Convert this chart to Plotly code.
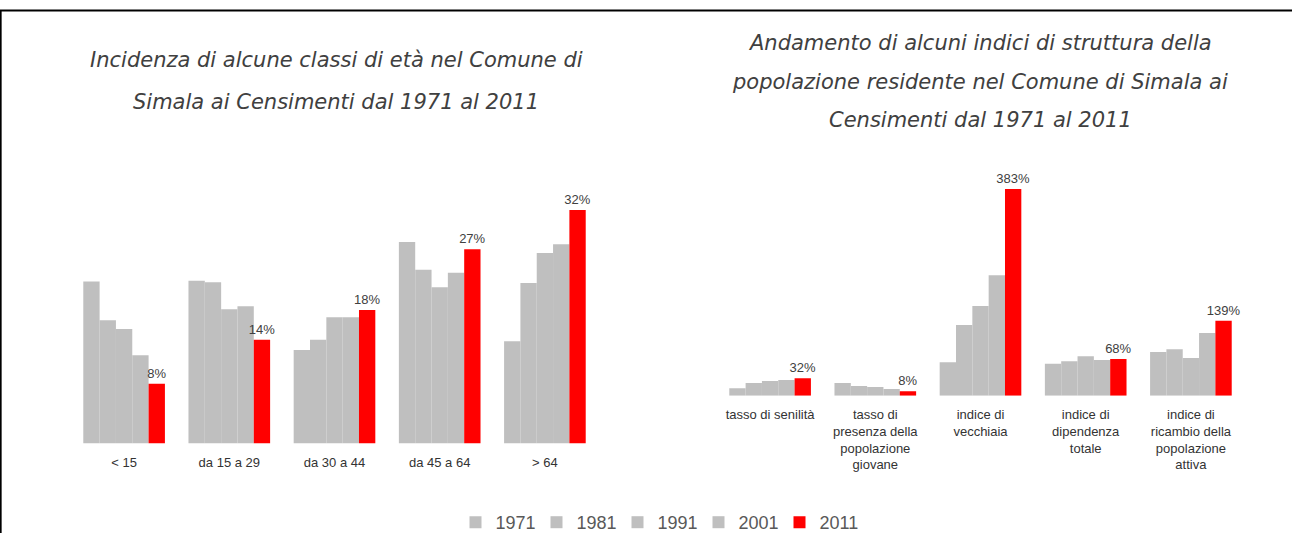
import plotly.graph_objects as go

## dati
anni = ["1971", "1981", "1991", "2001", "2011"]
colori = ["#BFBFBF", "#BFBFBF", "#BFBFBF", "#BFBFBF", "#FF0000"]

classi_eta = ["< 15", "da 15 a 29", "da 30 a 44", "da 45 a 64", "> 64"]
eta_1971 = [22.2, 22.3, 12.8, 27.6, 14.0]
eta_1981 = [16.9, 22.1, 14.2, 23.8, 22.0]
eta_1991 = [15.7, 18.4, 17.3, 21.4, 26.1]
eta_2001 = [12.1, 18.8, 17.3, 23.4, 27.3]
eta_2011 = [8.2, 14.2, 18.3, 26.6, 32.0]

indici = ["tasso di senilità", "tasso di<br>presenza della<br>popolazione<br>giovane",
          "indice di<br>vecchiaia", "indice di<br>dipendenza<br>totale",
          "indice di<br>ricambio della<br>popolazione<br>attiva"]
ind_1971 = [14, 23.5, 62, 59, 81]
ind_1981 = [23.5, 18, 131, 64, 86]
ind_1991 = [27, 16, 166, 73, 70]
ind_2001 = [29, 12.4, 223, 66, 116]
ind_2011 = [32.4, 8.4, 383, 68, 139]

serie_eta = [eta_1971, eta_1981, eta_1991, eta_2001, eta_2011]
serie_ind = [ind_1971, ind_1981, ind_1991, ind_2001, ind_2011]

H = 533
def py(pix):
    return (H - pix) / H

fig = go.Figure()
for i, anno in enumerate(anni):
    ultimo = i == len(anni) - 1
    fig.add_trace(go.Bar(x=classi_eta, y=serie_eta[i], name=anno, legendgroup=anno,
                         marker=dict(color=colori[i], line=dict(width=0)),
                         texttemplate="%{y:.0f}%" if ultimo else None,
                         textposition="outside" if ultimo else "none",
                         textfont=dict(family="Liberation Sans, Arial", size=13, color="#404040"),
                         cliponaxis=False, xaxis="x", yaxis="y"))
for i, anno in enumerate(anni):
    ultimo = i == len(anni) - 1
    fig.add_trace(go.Bar(x=indici, y=serie_ind[i], name=anno, legendgroup=anno,
                         showlegend=False,
                         marker=dict(color=colori[i], line=dict(width=0)),
                         texttemplate="%{y:.0f}%" if ultimo else None,
                         textposition="outside" if ultimo else "none",
                         textfont=dict(family="Liberation Sans, Arial", size=13, color="#404040"),
                         cliponaxis=False, xaxis="x2", yaxis="y2"))

asse_x = dict(showgrid=False, showline=False, ticks="", zeroline=False,
              tickfont=dict(family="Liberation Sans, Arial", size=13, color="#333333"),
              ticklabelstandoff=9)
asse_y = dict(showgrid=False, showline=False, showticklabels=False, zeroline=False)

fig.update_layout(
    width=1292, height=H, autosize=False,
    margin=dict(l=0, r=0, t=0, b=0, autoexpand=False),
    paper_bgcolor="white", plot_bgcolor="white",
    barmode="group", bargap=0.224, bargroupgap=0,
    xaxis=dict(domain=[71.5 / 1292, 597.5 / 1292], anchor="y", **asse_x),
    yaxis=dict(domain=[py(443.5), py(443.5 - 35 * 7.3)], range=[0, 35], anchor="x", **asse_y),
    xaxis2=dict(domain=[717.5 / 1292, 1243.5 / 1292], anchor="y2", **asse_x),
    yaxis2=dict(domain=[py(395.7), py(395.7 - 400 * 0.54)], range=[0, 400], anchor="x2", **asse_y),
    showlegend=True,
    legend=dict(orientation="h", x=658 / 1292, xanchor="center", y=py(504), yanchor="top",
                font=dict(family="Liberation Sans, Arial", size=18, color="#595959"),
                itemwidth=30, entrywidth=36, entrywidthmode="pixels",
                traceorder="normal", bgcolor="rgba(0,0,0,0)"),
)
fig.update_traces(constraintext="none", selector=dict(type="bar"))

## titoli
font_titolo = dict(family="DejaVu Sans", size=21, color="#404040", style="italic")
titoli = [
    ("Incidenza di alcune classi di età nel Comune di", 336, 60),
    ("Simala ai Censimenti dal 1971 al 2011", 336, 102),
    ("Andamento di alcuni indici di struttura della", 980, 43),
    ("popolazione residente nel Comune di Simala ai", 980, 82),
    ("Censimenti dal 1971 al 2011", 980, 120),
]
for testo, xc, yc in titoli:
    fig.add_annotation(text=testo, x=xc / 1292, y=py(yc), xref="paper", yref="paper",
                       xanchor="center", yanchor="middle", showarrow=False, font=font_titolo)

## cornice
fig.add_shape(type="line", xref="paper", yref="paper", x0=0, x1=1, y0=py(10.5), y1=py(10.5),
              line=dict(color="black", width=2))
fig.add_shape(type="line", xref="paper", yref="paper", x0=0.0005, x1=0.0005, y0=py(10.5), y1=0,
              line=dict(color="black", width=2))

fig.write_html("out.html", config={"displayModeBar": False},
               post_script="document.body.style.margin='0px';")
